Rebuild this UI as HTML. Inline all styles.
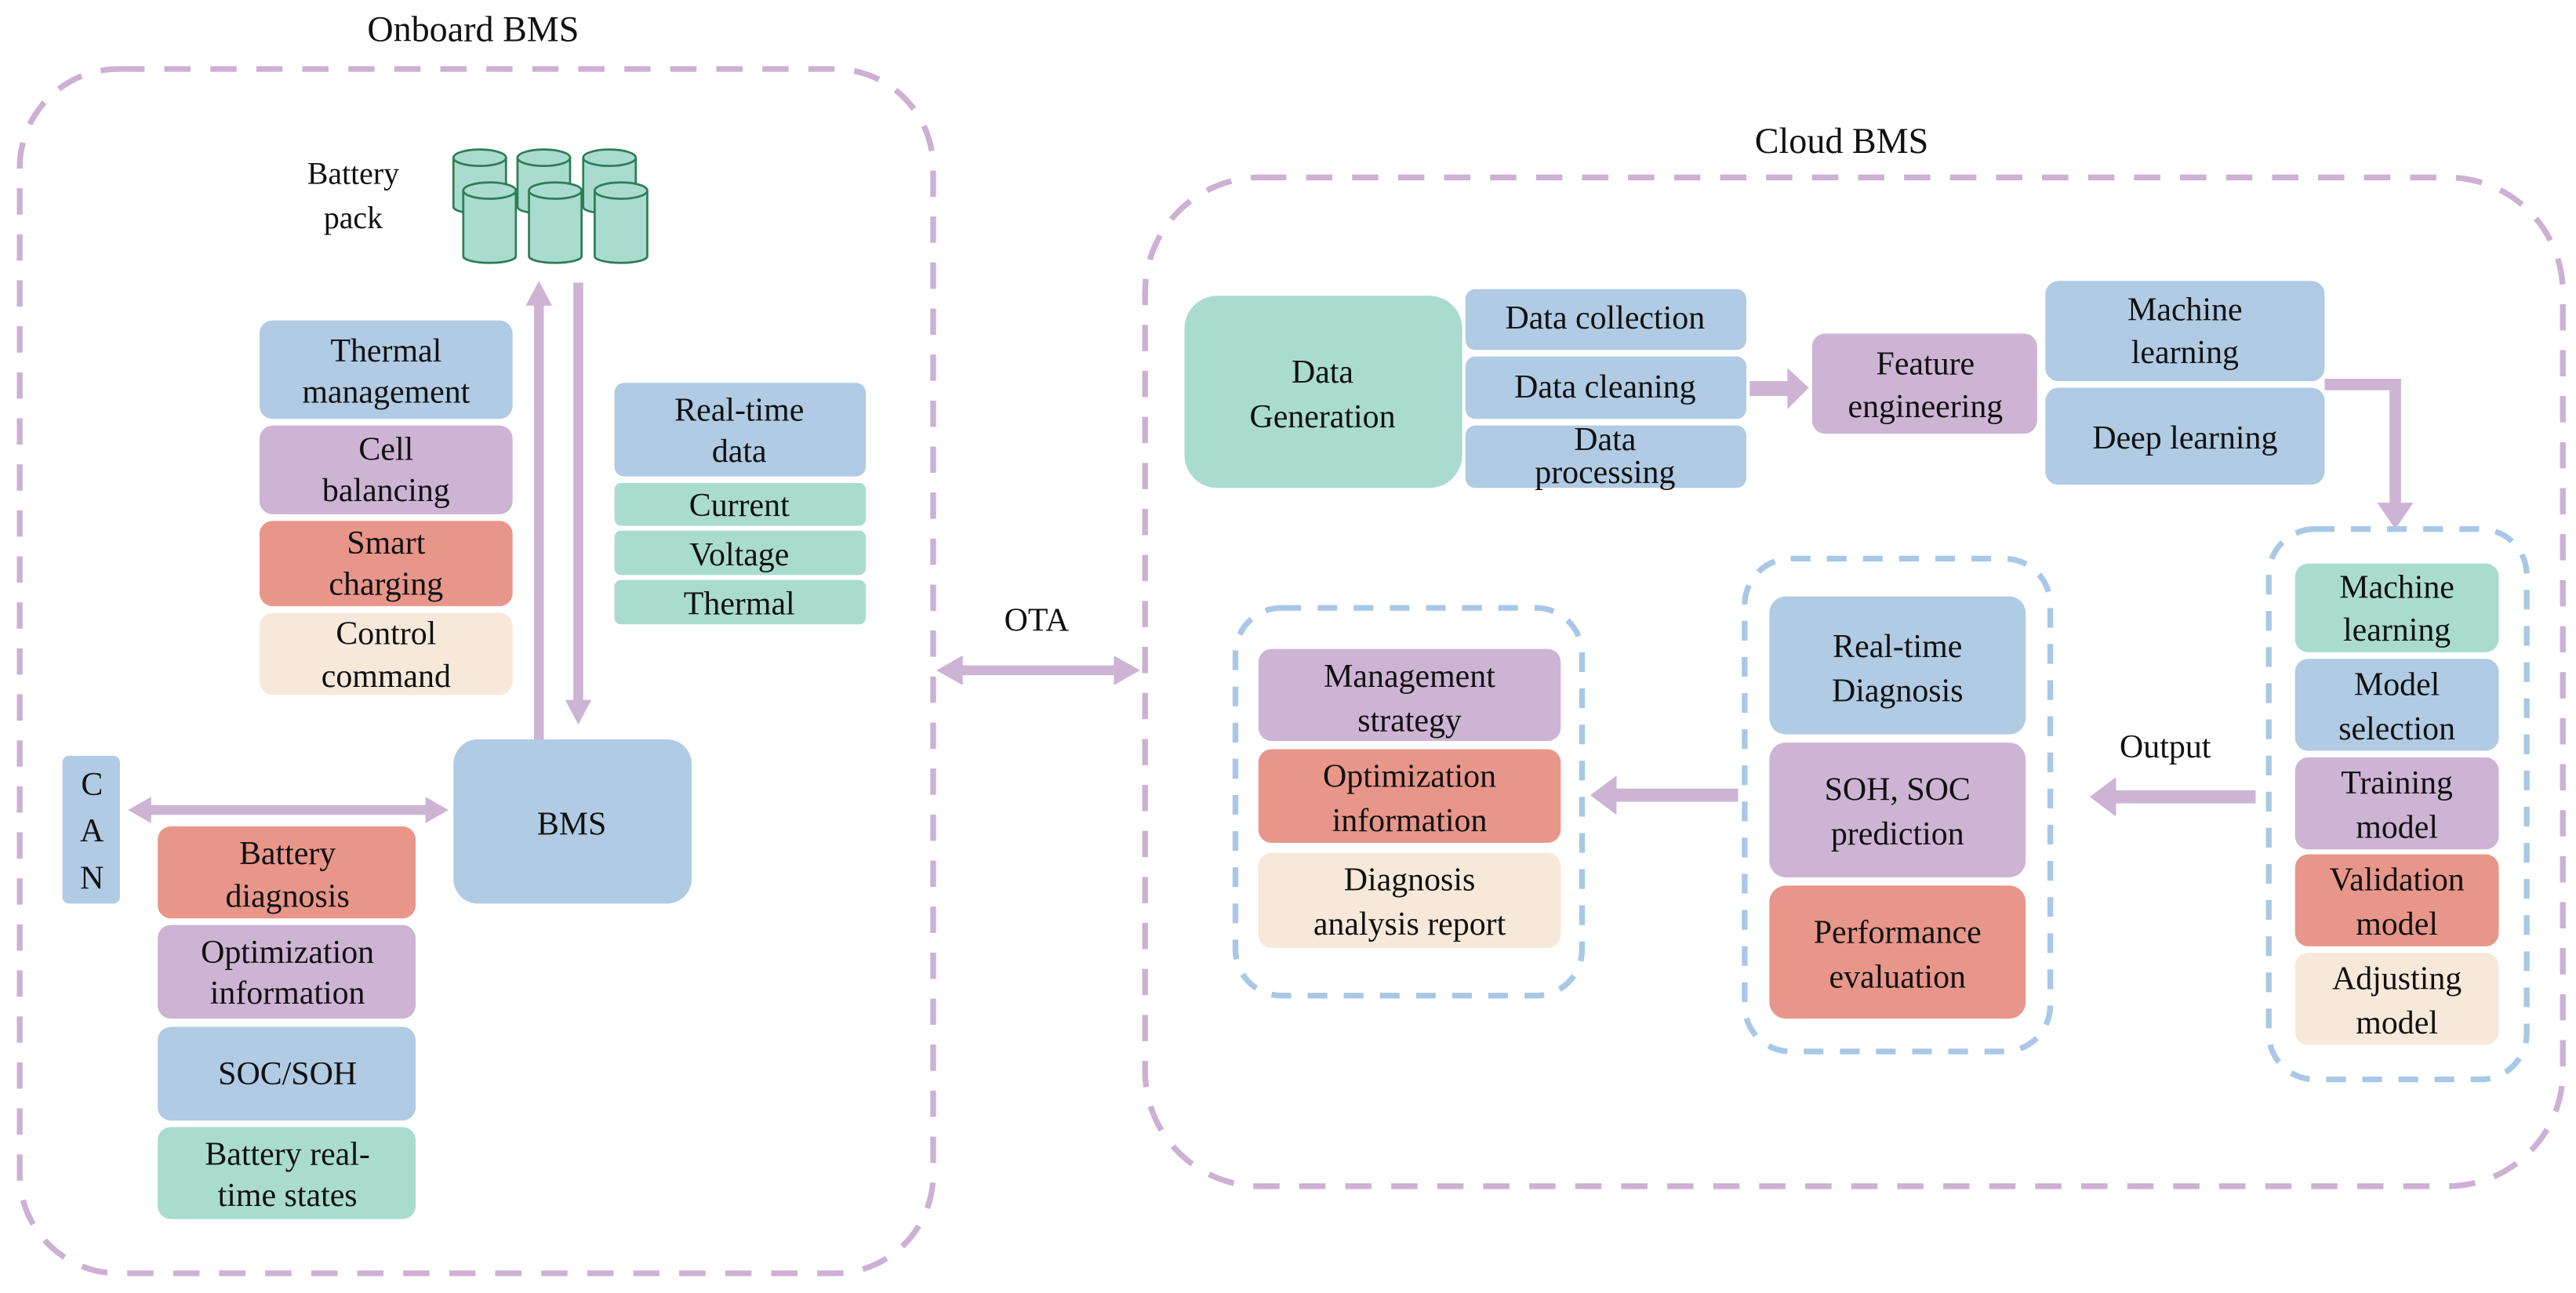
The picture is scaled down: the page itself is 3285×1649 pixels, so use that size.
<!DOCTYPE html>
<html><head><meta charset="utf-8"><style>
html,body{margin:0;padding:0;background:#fff;}
svg{display:block;}
svg text{font-family:"Liberation Serif","DejaVu Serif",serif !important;font-size:20px;fill:#111;text-anchor:middle;}
</style></head><body>
<svg width="3285" height="1649" viewBox="0 0 1568 787" preserveAspectRatio="none" xmlns="http://www.w3.org/2000/svg" font-family="Liberation Serif, serif">
<!-- titles -->
<text x="288" y="25" style="font-size:22px">Onboard BMS</text>
<text x="1121" y="93" style="font-size:22px">Cloud BMS</text>
<!-- outer dashed -->
<rect x="12" y="42" width="556" height="733" rx="60" fill="none" stroke="#cdb0d4" stroke-width="3.5" stroke-dasharray="16 12"/>
<rect x="697" y="108" width="863" height="614" rx="70" fill="none" stroke="#cdb0d4" stroke-width="3.5" stroke-dasharray="16 12"/>
<!-- battery pack -->
<text x="215" y="112" style="font-size:19px">Battery</text>
<text x="215" y="139" style="font-size:19px">pack</text>
<g fill="#a9dccf" stroke="#2e7d55" stroke-width="1.3">
<path d="M276,96 v30 a16,4 0 0 0 32,0 v-30"/><ellipse cx="292" cy="96" rx="16" ry="5"/>
<path d="M315,96 v30 a16,4 0 0 0 32,0 v-30"/><ellipse cx="331" cy="96" rx="16" ry="5"/>
<path d="M355,96 v30 a16,4 0 0 0 32,0 v-30"/><ellipse cx="371" cy="96" rx="16" ry="5"/>
<path d="M282,116 v40 a16,4 0 0 0 32,0 v-40"/><ellipse cx="298" cy="116" rx="16" ry="5"/>
<path d="M322,116 v40 a16,4 0 0 0 32,0 v-40"/><ellipse cx="338" cy="116" rx="16" ry="5"/>
<path d="M362,116 v40 a16,4 0 0 0 32,0 v-40"/><ellipse cx="378" cy="116" rx="16" ry="5"/>
</g>
<!-- vertical arrows -->
<g fill="#cdb4d4">
<rect x="325" y="185" width="6" height="284"/><polygon points="320,186 336,186 328,171"/>
<rect x="349" y="172" width="6" height="256"/><polygon points="344,426 360,426 352,441"/>
</g>
<!-- left top column -->
<rect x="158" y="195" width="154" height="60" rx="8" fill="#b0cbe3"/>
<text x="235" y="220">Thermal</text><text x="235" y="245">management</text>
<rect x="158" y="259" width="154" height="54" rx="8" fill="#cdb4d4"/>
<text x="235" y="280">Cell</text><text x="235" y="305">balancing</text>
<rect x="158" y="317" width="154" height="52" rx="8" fill="#e8968a"/>
<text x="235" y="337">Smart</text><text x="235" y="362">charging</text>
<rect x="158" y="373" width="154" height="50" rx="8" fill="#f6e9da"/>
<text x="235" y="392">Control</text><text x="235" y="418">command</text>
<!-- realtime -->
<rect x="374" y="233" width="153" height="57" rx="6" fill="#b0cbe3"/>
<text x="450" y="256">Real-time</text><text x="450" y="281">data</text>
<rect x="374" y="294" width="153" height="26" rx="4" fill="#a9dccf"/><text x="450" y="314">Current</text>
<rect x="374" y="323" width="153" height="27" rx="4" fill="#a9dccf"/><text x="450" y="344">Voltage</text>
<rect x="374" y="353" width="153" height="27" rx="4" fill="#a9dccf"/><text x="450" y="374">Thermal</text>
<!-- BMS & CAN -->
<rect x="276" y="450" width="145" height="100" rx="15" fill="#b0cbe3"/>
<text x="348" y="508">BMS</text>
<rect x="38" y="460" width="35" height="90" rx="4" fill="#b0cbe3"/>
<text x="56" y="484">C</text><text x="56" y="512">A</text><text x="56" y="541">N</text>
<line x1="90" y1="493" x2="260" y2="493" stroke="#cdb4d4" stroke-width="6"/>
<polygon points="78,493 92,485 92,501" fill="#cdb4d4"/><polygon points="273,493 259,485 259,501" fill="#cdb4d4"/>
<!-- bottom column -->
<rect x="96" y="503" width="157" height="56" rx="8" fill="#e8968a"/>
<text x="175" y="526">Battery</text><text x="175" y="552">diagnosis</text>
<rect x="96" y="563" width="157" height="57" rx="8" fill="#cdb4d4"/>
<text x="175" y="586">Optimization</text><text x="175" y="611">information</text>
<rect x="96" y="625" width="157" height="57" rx="8" fill="#b0cbe3"/>
<text x="175" y="660">SOC/SOH</text>
<rect x="96" y="686" width="157" height="56" rx="8" fill="#a9dccf"/>
<text x="175" y="709">Battery real-</text><text x="175" y="734">time states</text>
<!-- OTA -->
<text x="631" y="384">OTA</text>
<line x1="584" y1="408" x2="680" y2="408" stroke="#cdb4d4" stroke-width="6"/>
<polygon points="570,408 586,399 586,417" fill="#cdb4d4"/><polygon points="694,408 678,399 678,417" fill="#cdb4d4"/>
<!-- cloud top row -->
<rect x="721" y="180" width="169" height="117" rx="20" fill="#a9dccf"/>
<text x="805" y="233">Data</text><text x="805" y="260">Generation</text>
<rect x="892" y="176" width="171" height="37" rx="6" fill="#b0cbe3"/><text x="977" y="200">Data collection</text>
<rect x="892" y="217" width="171" height="38" rx="6" fill="#b0cbe3"/><text x="977" y="242">Data cleaning</text>
<rect x="892" y="259" width="171" height="38" rx="6" fill="#b0cbe3"/><text x="977" y="274">Data</text><text x="977" y="294">processing</text>
<rect x="1065" y="232" width="25" height="9" fill="#cdb4d4"/><polygon points="1088,224 1088,249 1101,236" fill="#cdb4d4"/>
<rect x="1103" y="203" width="137" height="61" rx="8" fill="#cdb4d4"/>
<text x="1172" y="228">Feature</text><text x="1172" y="254">engineering</text>
<rect x="1245" y="171" width="170" height="61" rx="8" fill="#b0cbe3"/>
<text x="1330" y="195">Machine</text><text x="1330" y="221">learning</text>
<rect x="1245" y="236" width="170" height="59" rx="8" fill="#b0cbe3"/>
<text x="1330" y="273">Deep learning</text>
<path d="M1415,234 H1458 V308" fill="none" stroke="#cdb4d4" stroke-width="7"/>
<polygon points="1447,306 1469,306 1458,322" fill="#cdb4d4"/>
<!-- right dashed -->
<rect x="1381" y="322" width="157" height="335" rx="28" fill="none" stroke="#a9c8e6" stroke-width="3.5" stroke-dasharray="12 10"/>
<rect x="1397" y="343" width="124" height="54" rx="8" fill="#a9dccf"/><text x="1459" y="364">Machine</text><text x="1459" y="390">learning</text>
<rect x="1397" y="401" width="124" height="56" rx="8" fill="#b0cbe3"/><text x="1459" y="423">Model</text><text x="1459" y="450">selection</text>
<rect x="1397" y="461" width="124" height="56" rx="8" fill="#cdb4d4"/><text x="1459" y="483">Training</text><text x="1459" y="510">model</text>
<rect x="1397" y="520" width="124" height="56" rx="8" fill="#e8968a"/><text x="1459" y="542">Validation</text><text x="1459" y="569">model</text>
<rect x="1397" y="580" width="124" height="56" rx="8" fill="#f6e9da"/><text x="1459" y="602">Adjusting</text><text x="1459" y="629">model</text>
<!-- output arrow -->
<text x="1318" y="461">Output</text>
<rect x="1286" y="481" width="87" height="8" fill="#cdb4d4"/><polygon points="1288,473 1288,497 1272,485" fill="#cdb4d4"/>
<!-- middle dashed -->
<rect x="1062" y="340" width="186" height="300" rx="28" fill="none" stroke="#a9c8e6" stroke-width="3.5" stroke-dasharray="12 10"/>
<rect x="1077" y="363" width="156" height="84" rx="10" fill="#b0cbe3"/><text x="1155" y="400">Real-time</text><text x="1155" y="427">Diagnosis</text>
<rect x="1077" y="452" width="156" height="82" rx="10" fill="#cdb4d4"/><text x="1155" y="487">SOH, SOC</text><text x="1155" y="514">prediction</text>
<rect x="1077" y="539" width="156" height="81" rx="10" fill="#e8968a"/><text x="1155" y="574">Performance</text><text x="1155" y="601">evaluation</text>
<rect x="982" y="480" width="76" height="8" fill="#cdb4d4"/><polygon points="984,472 984,496 968,484" fill="#cdb4d4"/>
<!-- left dashed -->
<rect x="752" y="370" width="211" height="236" rx="28" fill="none" stroke="#a9c8e6" stroke-width="3.5" stroke-dasharray="12 10"/>
<rect x="766" y="395" width="184" height="56" rx="8" fill="#cdb4d4"/><text x="858" y="418">Management</text><text x="858" y="445">strategy</text>
<rect x="766" y="456" width="184" height="57" rx="8" fill="#e8968a"/><text x="858" y="479">Optimization</text><text x="858" y="506">information</text>
<rect x="766" y="519" width="184" height="58" rx="8" fill="#f6e9da"/><text x="858" y="542">Diagnosis</text><text x="858" y="569">analysis  report</text>
</svg>
</body></html>
